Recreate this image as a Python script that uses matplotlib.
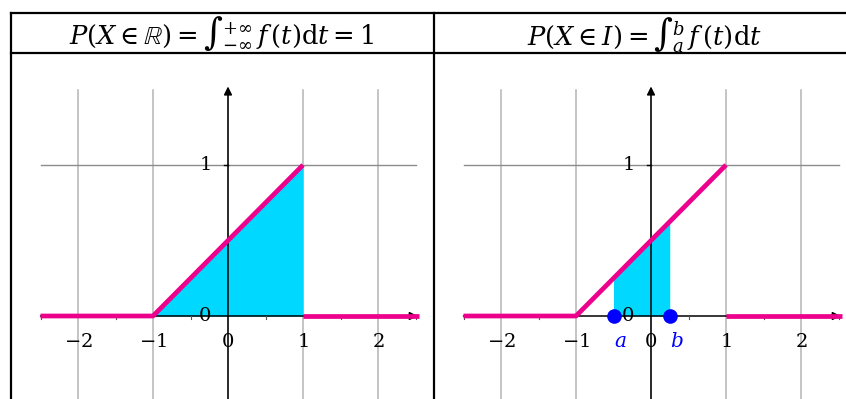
import numpy as np
import matplotlib
matplotlib.use("Agg")
import matplotlib.pyplot as plt
from matplotlib.lines import Line2D

plt.rcParams["font.family"] = "DejaVu Serif"
plt.rcParams["mathtext.fontset"] = "dejavuserif"

# densite triangulaire : nulle hors de [-1, 1], lineaire de 0 a 1 sur [-1, 1]
t_ramp = [-2.5, -1, 1]
f_ramp = [0, 0, 1]
t_tail = [1, 2.55]
f_tail = [0, 0]

# bornes de l'intervalle I = [a, b]
a, b = -0.5, 0.25

x_ticks = [-2, -1, 0, 1, 2]
x_labels = ["$-2$", "$-1$", "$0$", "$1$", "$2$"]
titles = [r"$P(X\in\mathbb{R})=$∫$_{-\infty}^{+\infty}\,f\,(t)\mathrm{d}t=1$",
          r"$P(X\in I)=$∫$_{a}^{b}\,f\,(t)\mathrm{d}t$"]

PINK = "#ec008c"
CYAN = "#00d8ff"
BLUE = "#0000ff"

W, H = 846, 399
fig = plt.figure(figsize=(W / 100, H / 100), dpi=100)

# repere : 75 px par unite en x, 151 px par unite en y
px_x, px_y = 75, 151
y0_pix = 316
ylim = (-(H - y0_pix) / px_y, 1.62)
xlim = (-2.6, 2.6)


def make_axes(x0_pix):
    w = (xlim[1] - xlim[0]) * px_x
    h = (ylim[1] - ylim[0]) * px_y
    ax = fig.add_axes([(x0_pix + xlim[0] * px_x) / W, 0, w / W, h / H])
    ax.set_xlim(*xlim)
    ax.set_ylim(*ylim)
    ax.axis("off")
    return ax


def draw_panel(ax, interval=None):
    # grille
    for x in x_ticks:
        ax.plot([x, x], [ylim[0] - 0.1, 1.5], color="#b4b4b4", lw=1.1, zorder=1,
                clip_on=False)
    ax.plot([-2.5, 2.5], [1, 1], color="#8c8c8c", lw=1.0, zorder=1)

    # aire sous la courbe
    if interval is None:
        ax.fill_between(t_ramp[1:], f_ramp[1:], 0, color=CYAN, lw=0, zorder=2)
    else:
        tt = list(interval)
        ax.fill_between(tt, np.interp(tt, t_ramp, f_ramp), 0, color=CYAN, lw=0, zorder=2)

    # axes avec fleches
    ax.annotate("", xy=(2.53, 0), xytext=(-2.5, 0), annotation_clip=False,
                arrowprops=dict(arrowstyle="-|>", lw=1.1, color="black",
                                mutation_scale=12, shrinkA=0, shrinkB=0), zorder=3)
    ax.annotate("", xy=(0, 1.52), xytext=(0, ylim[0] - 0.1), annotation_clip=False,
                arrowprops=dict(arrowstyle="-|>", lw=1.1, color="black",
                                mutation_scale=12, shrinkA=0, shrinkB=0), zorder=3)
    # petites graduations
    for x in np.arange(-2.5, 2.6, 1.0):
        ax.plot([x, x], [-0.018, 0], color="#555555", lw=0.8, zorder=3)
    ax.plot([-0.05, 0], [1, 1], color="black", lw=1.0, zorder=3)

    # courbe de la densite
    ax.plot(t_ramp, f_ramp, color=PINK, lw=3.4, zorder=4, solid_capstyle="butt")
    ax.plot(t_tail, f_tail, color=PINK, lw=3.4, zorder=4, solid_capstyle="butt")

    # etiquettes
    for x, lab in zip(x_ticks, x_labels):
        ax.text(x, -0.17, lab, ha="center", va="center", fontsize=14, zorder=5)
    ax.text(-0.31, 0, "$0$", ha="center", va="center", fontsize=14, zorder=5)
    ax.text(-0.31, 1, "$1$", ha="center", va="center", fontsize=14, zorder=5)

    if interval is not None:
        ax.plot(interval, [0, 0], "o", color=BLUE, ms=9.5, zorder=6, clip_on=False)
        for x, lab in zip(interval, ["$a$", "$b$"]):
            ax.text(x + 0.09, -0.17, lab, ha="center", va="center", fontsize=14.5,
                    color=BLUE, zorder=5)


ax1 = make_axes(228)
draw_panel(ax1)
ax2 = make_axes(651)
draw_panel(ax2, (a, b))

# cadre du tableau
lw_tab = 1.6
for (x1, y1), (x2, y2) in [((11, 12.5), (W, 12.5)), ((11, 53), (W, 53)),
                           ((11, 12.5), (11, H)), ((434, 12.5), (434, H))]:
    fig.add_artist(Line2D([x1 / W, x2 / W], [1 - y1 / H, 1 - y2 / H],
                          color="black", lw=lw_tab, transform=fig.transFigure))

fig.text(222 / W, 1 - 34 / H, titles[0], ha="center", va="center", fontsize=18.5)
fig.text(644 / W, 1 - 34 / H, titles[1], ha="center", va="center", fontsize=18.5)

fig.savefig("out.png", dpi=100)
